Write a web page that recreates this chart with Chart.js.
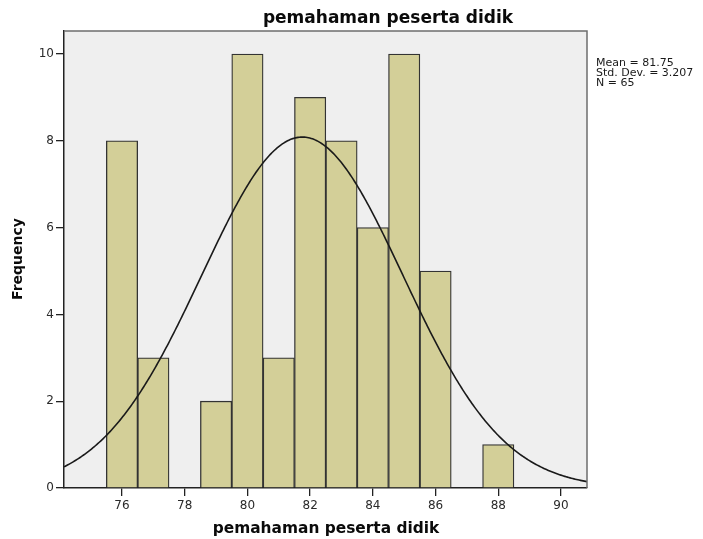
<!DOCTYPE html>
<html>
<head>
<meta charset="utf-8">
<script src="https://cdn.jsdelivr.net/npm/chart.js@4/dist/chart.umd.min.js"></script>
<style>
  html, body { margin: 0; padding: 0; background: #ffffff; }
  #wrap { width: 703px; height: 539px; }
</style>
</head>
<body>
<div id="wrap"><canvas id="hist" width="703" height="539"></canvas></div>
<script>
// Score bins (bin width 1) and how many students fell into each
const scores      = [76, 77, 78, 79, 80, 81, 82, 83, 84, 85, 86, 87, 88];
const frequencies = [ 8,  3,  0,  2, 10,  3,  9,  8,  6, 10,  5,  0,  1];

// Axis tick values
const xTicks = [76, 78, 80, 82, 84, 86, 88, 90];
const yTicks = [0, 2, 4, 6, 8, 10];

// Descriptive statistics shown beside the plot (used for the normal curve)
const MEAN = 81.75;
const STD_DEV = 3.207;
const N = 65;
const BIN_WIDTH = 1;

const chartTitle = 'pemahaman peserta didik';
const xTitle = 'pemahaman peserta didik';
const yTitle = 'Frequency';

const X_MIN = 74.15, X_MAX = 90.83;
const Y_MIN = 0, Y_MAX = 10.53;

// Normal density scaled to counts, sampled across the x range
const curve = [];
for (let i = 0; i <= 400; i++) {
  const x = X_MIN + (X_MAX - X_MIN) * i / 400;
  const z = (x - MEAN) / STD_DEV;
  const y = N * BIN_WIDTH / (STD_DEV * Math.sqrt(2 * Math.PI)) * Math.exp(-0.5 * z * z);
  curve.push({ x, y });
}

const FONT = "'DejaVu Sans', Arial, sans-serif";

const decorations = {
  id: 'decorations',
  beforeDraw(chart) {
    const { ctx, chartArea: a } = chart;
    ctx.save();
    ctx.fillStyle = '#efefef';
    ctx.fillRect(a.left, a.top, a.right - a.left, a.bottom - a.top);
    ctx.restore();
  },
  afterDraw(chart) {
    const { ctx, chartArea: a } = chart;
    ctx.save();
    // top and right frame
    ctx.strokeStyle = '#6e6e6e';
    ctx.lineWidth = 1.5;
    ctx.beginPath();
    ctx.moveTo(a.left, a.top);
    ctx.lineTo(a.right, a.top);
    ctx.lineTo(a.right, a.bottom);
    ctx.stroke();

    ctx.fillStyle = '#0a0a0a';
    // chart title
    ctx.font = `bold 17px ${FONT}`;
    ctx.textAlign = 'center';
    ctx.textBaseline = 'alphabetic';
    ctx.fillText(chartTitle, 388, 22.5);

    // x axis title
    ctx.font = `bold 15.4px ${FONT}`;
    ctx.fillText(xTitle, 326, 533);

    // y axis title
    ctx.save();
    ctx.translate(18, 259);
    ctx.rotate(-Math.PI / 2);
    ctx.font = `bold 14px ${FONT}`;
    ctx.textBaseline = 'middle';
    ctx.fillText(yTitle, 0, 0);
    ctx.restore();

    // statistics box
    ctx.font = `11px ${FONT}`;
    ctx.textAlign = 'left';
    ctx.fillStyle = '#1a1a1a';
    const lines = [`Mean = ${MEAN}`, `Std. Dev. = ${STD_DEV}`, `N = ${N}`];
    lines.forEach((t, i) => ctx.fillText(t, 596, 66 + i * 9.8));
    ctx.restore();
  }
};

new Chart(document.getElementById('hist'), {
  type: 'bar',
  data: {
    datasets: [
      {
        type: 'line',
        data: curve,
        borderColor: '#1a1a1a',
        borderWidth: 1.6,
        pointRadius: 0,
        fill: false,
        tension: 0,
        order: 1
      },
      {
        type: 'bar',
        data: scores.map((s, i) => ({ x: s, y: frequencies[i] })),
        backgroundColor: '#d3cf98',
        borderColor: '#333333',
        borderWidth: 1.3,
        barPercentage: 1,
        categoryPercentage: 1,
        order: 2
      }
    ]
  },
  options: {
    responsive: false,
    animation: false,
    devicePixelRatio: 1,
    layout: { padding: { top: 31, right: 116, left: 0, bottom: 0 } },
    plugins: { legend: { display: false }, tooltip: { enabled: false }, title: { display: false } },
    scales: {
      x: {
        type: 'linear',
        min: X_MIN,
        max: X_MAX,
        offset: false,
        afterBuildTicks: s => { s.ticks = xTicks.map(v => ({ value: v })); },
        afterFit: s => { s.height = 51; },
        ticks: { color: '#2a2a2a', font: { family: FONT, size: 12 }, padding: 3, maxRotation: 0, autoSkip: false },
        grid: { drawOnChartArea: false, drawTicks: true, tickLength: 8, color: '#222', lineWidth: 1.3, offset: false },
        border: { color: '#222', width: 1.5 }
      },
      y: {
        min: Y_MIN,
        max: Y_MAX,
        afterBuildTicks: s => { s.ticks = yTicks.map(v => ({ value: v })); },
        afterFit: s => { s.width = 64; },
        ticks: { color: '#2a2a2a', font: { family: FONT, size: 12 }, padding: 2 },
        grid: { drawOnChartArea: false, drawTicks: true, tickLength: 8, color: '#222', lineWidth: 1.3 },
        border: { color: '#222', width: 1.5 }
      }
    }
  },
  plugins: [decorations]
});
</script>
</body>
</html>
